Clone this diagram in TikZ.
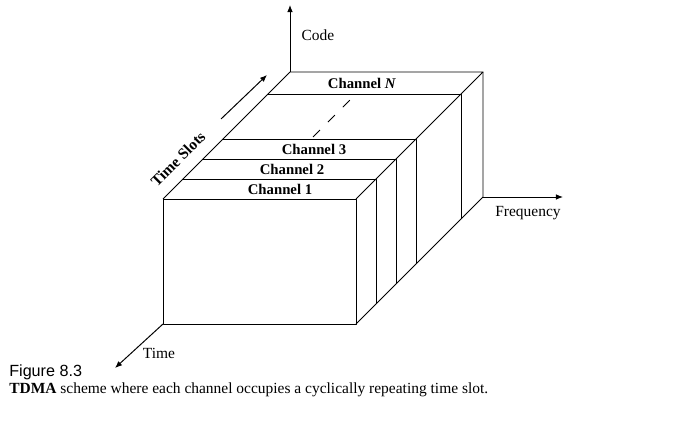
\documentclass[tikz,border=0pt]{standalone}
\usepackage{fontspec}
\usetikzlibrary{arrows.meta}
\setmainfont{Liberation Serif}
\newfontfamily\capsans{Liberation Sans}
\tikzstyle{edge}=[line width=0.6pt, line join=round]
\tikzstyle{axis}=[line width=0.7pt, -{Latex[length=5pt, width=4pt]}]
\tikzstyle{chan}=[font=\fontsize{10.5}{12}\selectfont\bfseries, inner sep=0pt]
\tikzstyle{axlabel}=[font=\fontsize{11}{13}\selectfont, inner sep=0pt]

\begin{document}
\begin{tikzpicture}[x=0.025cm, y=0.025cm]
				\useasboundingbox (0,0) rectangle (696,432);

				% Corners of the box
				\coordinate (fbl) at (163,108);
				\coordinate (fbr) at (356,108);
				\coordinate (ftl) at (163,233);
				\coordinate (ftr) at (356,233);
				\coordinate (btl) at (290,360);
				\coordinate (btr) at (483,360);
				\coordinate (bbr) at (483,235);

				\draw[edge] (fbl) rectangle (ftr);
				\draw[edge] (ftl) -- (btl) -- (btr) -- (ftr);
				\draw[edge] (fbr) -- (bbr) -- (btr);

				% Time slot boundaries
				\foreach \s in {20, 40, 60, 105}{ \draw[edge] ({163+\s},{233+\s}) -- ({356+\s},{233+\s}) -- ({356+\s},{108+\s}); }
				\draw[edge, dash pattern=on 7pt off 8pt] (313,295) -- (355,337);

				\node[chan] (ch1) at (280,243) {Channel 1};
				\node[chan] (ch2) at (292,263) {Channel 2};
				\node[chan] (ch3) at (314,283) {Channel 3};
				\node[chan] (chN) at (362,349) {Channel \textit{N}};

				% Axes
				\coordinate (codetip) at (290,427);
				\coordinate (freqtip) at (563,235);
				\coordinate (timetip) at (115,64);
				\draw[axis] (btl) -- (codetip);
				\draw[axis] (bbr) -- (freqtip);
				\draw[axis] (fbl) -- (timetip);

				\node[axlabel] (code) at (318,397) {Code};
				\node[axlabel] (freq) at (528,219) {Frequency};
				\node[axlabel] (time) at (159,79) {Time};

				\coordinate (slotA) at (221,313);
				\coordinate (slotB) at (267,357);
				\draw[axis] (slotA) -- (slotB);
				\node[chan, font=\fontsize{11}{13}\selectfont\bfseries, rotate=45] (slots) at (178,273) {Time Slots};

				% Caption
				\node[anchor=base west, inner sep=0pt, font=\fontsize{11.5}{13}\selectfont\capsans] (fig) at (9,55) {Figure 8.3};
				\node[anchor=base west, inner sep=0pt, font=\fontsize{11}{13}\selectfont] (caption) at (9,38) {\textbf{TDMA} scheme where each channel occupies a cyclically repeating time slot.};
\end{tikzpicture}
\end{document}
